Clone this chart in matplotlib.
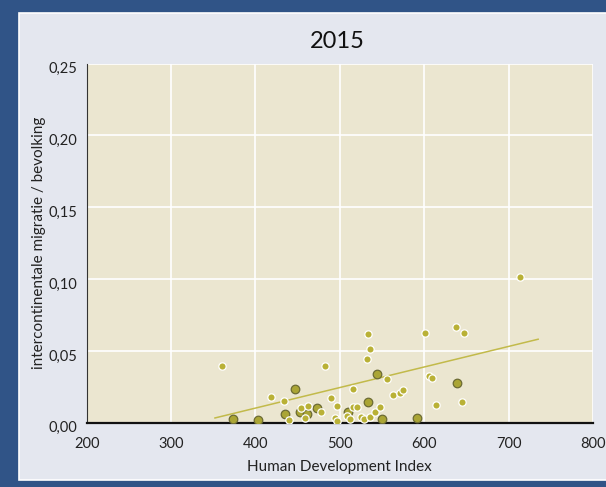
import matplotlib
matplotlib.use("Agg")
import matplotlib.pyplot as plt
import matplotlib.patches as mpatches
import matplotlib.transforms as mtrans

plt.rcParams["font.family"] = ["Lato", "DejaVu Sans"]

# kleine punten (lichte vulling, witte rand)
hdi_licht = [360, 418.7, 434, 439.7, 453.9, 461.8, 458.6, 477.3, 482.7, 489,
             496.2, 494.2, 496.2, 508.8, 512.3, 515.2, 515.2, 520, 525.4, 529,
             532, 535.7, 533.7, 535.7, 542, 547.2, 555.5, 563, 571.2, 574.4,
             600.8, 605.9, 609, 613.9, 637.9, 647, 644.3, 713.8]
mig_licht = [0.0397, 0.0177, 0.0149, 0.0021, 0.0105, 0.0119, 0.0036, 0.0073,
             0.0395, 0.0174, 0.0116, 0.0033, 0.0014, 0.0048, 0.0028, 0.0237,
             0.0109, 0.0112, 0.0042, 0.0026, 0.0444, 0.0512, 0.0614, 0.0042,
             0.0075, 0.0112, 0.0305, 0.0195, 0.0209, 0.0230, 0.0626, 0.0326,
             0.0311, 0.0121, 0.0667, 0.0623, 0.0146, 0.1011]

# grotere punten (donkere rand)
hdi_donker = [373.7, 403, 446.4, 435, 453, 460.7, 473.2, 509.2, 533, 544.3,
              549.5, 591, 638.7]
mig_donker = [0.0024, 0.0017, 0.0237, 0.0063, 0.0073, 0.0059, 0.0100, 0.0075,
              0.0142, 0.0338, 0.0024, 0.0031, 0.0275]

# trendlijn (begin- en eindpunt)
trend_x = [352, 735]
trend_y = [0.0033, 0.0581]

x_ticks = [200, 300, 400, 500, 600, 700, 800]
y_ticks = [0.00, 0.05, 0.10, 0.15, 0.20, 0.25]
y_labels = ["0,00", "0,05", "0,10", "0,15", "0,20", "0,25"]

BLAUW = "#305487"
PANEEL = "#e4e7ef"
VLAK = "#ebe6d0"

fig = plt.figure(figsize=(6.06, 4.87), dpi=100)
fig.patch.set_facecolor(BLAUW)
fig.patches.append(mpatches.Rectangle(
    (19 / 606, 7 / 487), 1.0, 1 - 20 / 487, transform=fig.transFigure,
    facecolor=PANEEL, edgecolor="white", lw=1.2, zorder=-10))

ax = fig.add_axes([86.7 / 606, 1 - 422.7 / 487, 506.3 / 606, 359.2 / 487])
ax.set_zorder(5)
ax.set_facecolor(VLAK)
ax.set_xlim(200, 800)
ax.set_ylim(0, 0.25)
ax.set_xticks(x_ticks)
ax.set_yticks(y_ticks)
ax.set_yticklabels(y_labels)
ax.grid(True, color="white", lw=1.2)
ax.set_axisbelow(True)
for s in ("top", "right"):
    ax.spines[s].set_visible(False)
ax.spines["left"].set_color("#333333")
ax.spines["left"].set_linewidth(0.8)
ax.spines["bottom"].set_color("#111111")
ax.spines["bottom"].set_linewidth(1.6)
ax.tick_params(length=0, labelsize=10.5, colors="#222222")
ax.tick_params(axis="y", pad=7)
ax.tick_params(axis="x", pad=10)
off = mtrans.ScaledTranslation(0, -3 / 72, fig.dpi_scale_trans)
for lb in ax.get_yticklabels():
    lb.set_transform(lb.get_transform() + off)

ax.plot(trend_x, trend_y, color="#c2ba4a", lw=1.1, zorder=2)
ax.scatter(hdi_donker, mig_donker, s=38, color="#aaa535",
           edgecolor="#6c6b34", linewidth=0.9, zorder=3)
ax.scatter(hdi_licht, mig_licht, s=28, color="#b9b136",
           edgecolor="white", linewidth=0.9, zorder=4)

ax.set_xlabel("Human Development Index", fontsize=11, color="#222222")
ax.xaxis.set_label_coords(0.5, -0.105)
ax.set_ylabel("intercontinentale migratie / bevolking", fontsize=11,
              color="#222222")
ax.yaxis.set_label_coords(-0.08, 0.5)

fig.text(337 / 606, 1 - 42 / 487, "2015", fontsize=17, ha="center",
         va="center", color="#111111")

fig.savefig("out.png", dpi=100, facecolor=fig.get_facecolor())
